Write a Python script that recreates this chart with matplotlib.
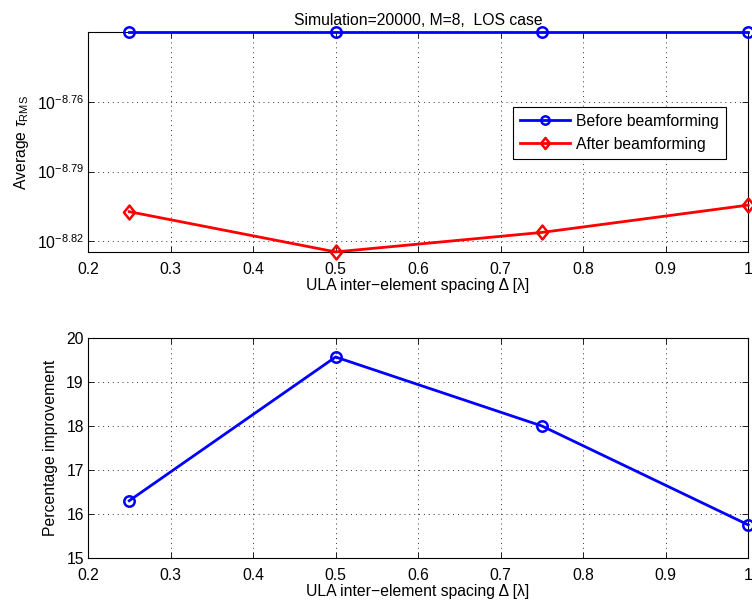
import matplotlib

matplotlib.use("Agg")
import matplotlib.pyplot as plt
from matplotlib.path import Path
from matplotlib.ticker import FixedLocator, NullLocator

plt.rcParams["font.family"] = ["Liberation Sans", "DejaVu Sans"]
plt.rcParams["mathtext.fontset"] = "custom"
plt.rcParams["mathtext.rm"] = "Liberation Sans"
plt.rcParams["mathtext.it"] = "Liberation Sans:italic"

spacing = [0.25, 0.5, 0.75, 1.0]
tau_before = [1.862e-9, 1.862e-9, 1.862e-9, 1.862e-9]
tau_after = [1.5585e-9, 1.4976e-9, 1.5268e-9, 1.5687e-9]
improvement = [16.3, 19.57, 18.0, 15.75]

x_ticks = [0.2, 0.3, 0.4, 0.5, 0.6, 0.7, 0.8, 0.9, 1.0]
x_labels = ["0.2", "0.3", "0.4", "0.5", "0.6", "0.7", "0.8", "0.9", "1"]
log_ticks = [-8.82, -8.79, -8.76]
imp_ticks = [15, 16, 17, 18, 19, 20]

xlabel = "ULA inter\u2212element spacing \u0394 [\u03bb]"
FS = 11.3

# MATLAB-like diamond: a bit wider than matplotlib's thin diamond
diamond = Path([(0, 1), (0.8, 0), (0, -1), (-0.8, 0), (0, 1)],
               [Path.MOVETO, Path.LINETO, Path.LINETO, Path.LINETO, Path.CLOSEPOLY])


def style(ax):
    ax.set_xlim(0.2, 1.0)
    ax.set_xticks(x_ticks)
    ax.set_xticklabels(x_labels)
    ax.tick_params(direction="in", top=True, right=True, labelsize=FS, length=4, width=0.6, pad=3)
    ax.tick_params(axis="x", pad=7)
    ax.grid(True, linestyle=(0, (1, 4)), color="0.2", linewidth=0.7)
    for s in ax.spines.values():
        s.set_linewidth(0.8)
    ax.set_xlabel(xlabel, fontsize=FS, labelpad=1)


fig = plt.figure(figsize=(7.52, 6.07), dpi=100)
ax1 = fig.add_axes([0.117, 0.585, 0.878, 0.362])
ax2 = fig.add_axes([0.117, 0.081, 0.878, 0.362])

ax1.plot(spacing, tau_before, color="#0000ff", lw=2, marker="o", ms=7.5, mfc="none", mew=1.8,
         label="Before beamforming", clip_on=False, zorder=5)
ax1.plot(spacing, tau_after, color="#ff0000", lw=2, marker=diamond, ms=10, mfc="none", mew=1.8,
         label="After beamforming", clip_on=False, zorder=5)
ax1.set_yscale("log")
ax1.set_ylim(min(tau_after), max(tau_before))
ax1.yaxis.set_major_locator(FixedLocator([10 ** v for v in log_ticks]))
ax1.yaxis.set_minor_locator(NullLocator())
ax1.set_yticklabels([r"$10^{%.2f}$" % v for v in log_ticks])
style(ax1)
ax1.set_ylabel(r"Average $\tau_{\rm RMS}$", fontsize=FS, labelpad=4)
ax1.set_title("Simulation=20000, M=8,  LOS case", fontsize=FS, pad=5)
leg = ax1.legend(loc="upper left", bbox_to_anchor=(0.644, 0.66), fontsize=FS, fancybox=False,
                 edgecolor="black", framealpha=1, handlelength=3.2, borderpad=0.45,
                 labelspacing=0.5, borderaxespad=0, handletextpad=0.35, markerscale=0.8)
leg.get_frame().set_linewidth(0.8)

ax2.plot(spacing, improvement, color="#0000ff", lw=2, marker="o", ms=7.5, mfc="none", mew=1.8,
         clip_on=False, zorder=5)
ax2.set_ylim(15, 20)
ax2.set_yticks(imp_ticks)
style(ax2)
ax2.set_ylabel("Percentage improvement", fontsize=FS, labelpad=6)

fig.savefig("out.png", dpi=100)
